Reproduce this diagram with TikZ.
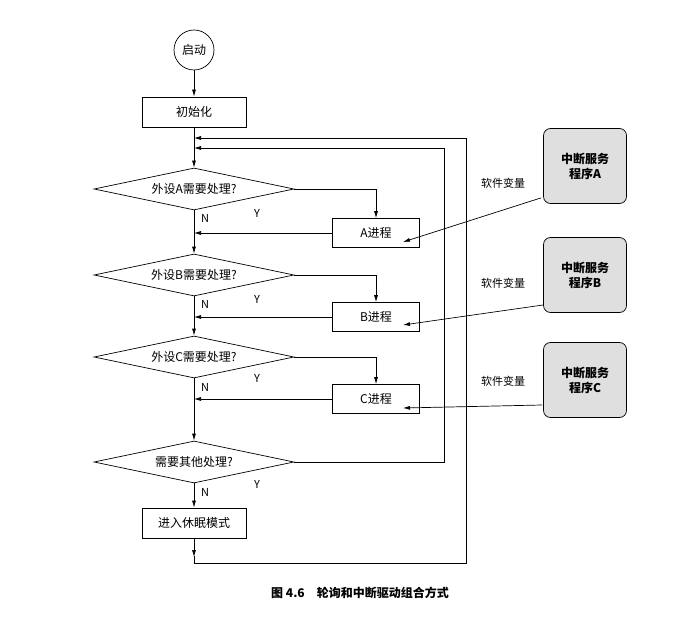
\documentclass[tikz,border=0pt]{standalone}
\usepackage{fontspec}
\setmainfont{Noto Sans CJK SC}
\usetikzlibrary{shapes.geometric,arrows.meta}
\begin{document}
\begin{tikzpicture}[x=1pt,y=-1pt,font=\fontsize{12}{14}\selectfont,
  line width=0.7pt, >={Latex[length=7pt,width=4pt]},
  box/.style={draw,minimum width=104pt,minimum height=30pt,inner sep=0pt},
  pbox/.style={draw,minimum width=87pt,minimum height=29pt,inner sep=0pt},
  dia/.style={draw,diamond,aspect=4.8,minimum width=200pt,minimum height=42pt,inner sep=0pt},
  isr/.style={draw,rounded corners=7pt,fill=gray!25,minimum width=83pt,minimum height=75pt,align=center,font=\fontsize{12}{15}\selectfont\bfseries},
  lab/.style={font=\fontsize{11}{12}\selectfont}]
\useasboundingbox (0,0) rectangle (693,620);
\node[draw,circle,minimum size=40pt,inner sep=0pt] (s) at (194,50) {启动};
\node[box] (init) at (194,112) {初始化};
\node[dia] (da) at (194,189) {外设A需要处理?};
\node[dia] (db) at (194,275) {外设B需要处理?};
\node[dia] (dc) at (194,357) {外设C需要处理?};
\node[dia] (dd) at (194,462) {需要其他处理?};
\node[box] (sleep) at (194,523) {进入休眠模式};
\node[pbox] (pa) at (376,233) {A进程};
\node[pbox] (pb) at (376,317) {B进程};
\node[pbox] (pc) at (376,399) {C进程};
\node[isr] (ia) at (585,166) {中断服务\\程序A};
\node[isr] (ib) at (585,275) {中断服务\\程序B};
\node[isr] (ic) at (585,380) {中断服务\\程序C};
\node[lab] (va) at (503,183) {软件变量};
\node[lab] (vb) at (503,283) {软件变量};
\node[lab] (vc) at (503,381) {软件变量};
\foreach \d/\n/\y in {a/218/213,b/304/299,c/387/378,d/492/484}{
  \node[lab] (n\d) at (205,\n) {N};
  \node[lab] (y\d) at (257,\y) {Y};
}
\coordinate (m0) at (194,138); \coordinate (m1) at (194,148);
\coordinate (ja) at (194,233); \coordinate (jb) at (194,317); \coordinate (jc) at (194,399);
\coordinate (o1) at (466,138); \coordinate (o2) at (466,563); \coordinate (b0) at (194,563);
\coordinate (i1) at (444,148); \coordinate (i2) at (444,462);
\draw[->] (s) -- (init);
\draw[->] (init) -- (da);
\draw[->] (da) -- (db);
\draw[->] (db) -- (dc);
\draw[->] (dc) -- (dd);
\draw[->] (dd) -- (sleep);
\draw[->] (da.east) -| (pa.north);
\draw[->] (db.east) -| (pb.north);
\draw[->] (dc.east) -| (pc.north);
\draw[->] (pa.west) -- (ja);
\draw[->] (pb.west) -- (jb);
\draw[->] (pc.west) -- (jc);
\draw[->] (sleep.south) -- (194,557);
\draw[->] (194,556) -- (b0) -- (o2) -- (o1) -- (m0);
\draw[->] (dd.east) -- (i2) -- (i1) -- (m1);
\draw[->] (ia.south west) ++(-2,-6) coordinate (ea) -- (403,242);
\draw[->] (543,305) coordinate (eb) -- (403,325);
\draw[->] (542,405) coordinate (ec) -- (403,408);
\node[font=\fontsize{12}{14}\selectfont\bfseries] (cap) at (360,593) {图 4.6\quad 轮询和中断驱动组合方式};
\end{tikzpicture}
\end{document}
